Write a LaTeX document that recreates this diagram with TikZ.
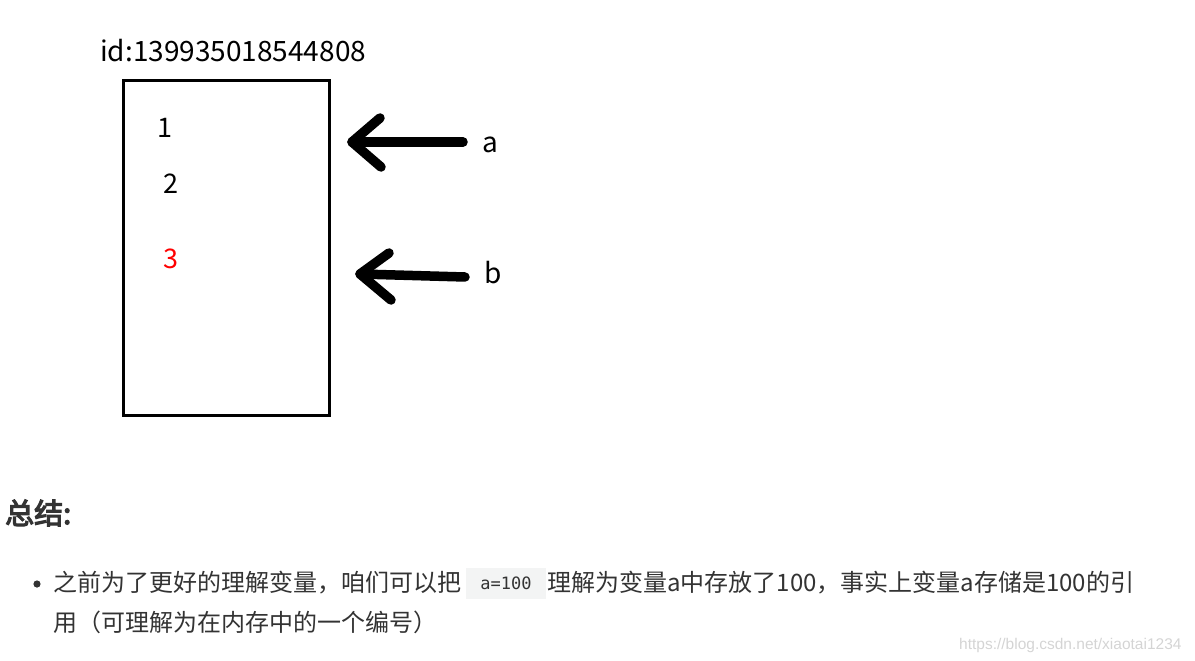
\documentclass[tikz,border=0pt]{standalone}
\usepackage{fontspec}
\setmainfont{Liberation Sans}
\newfontfamily\cjk{Noto Sans CJK SC}
\newfontfamily\cjkbold{Noto Sans CJK SC}[FakeBold=4]
\newfontfamily\codefont{DejaVu Sans Mono}
\newfontfamily\wmfont{Liberation Sans}
\definecolor{txt}{HTML}{333333}
\definecolor{codebg}{HTML}{F3F4F4}
\definecolor{wm}{HTML}{D4D4D4}
\definecolor{red3}{HTML}{FF0000}
\begin{document}
\begin{tikzpicture}[x=1pt,y=-1pt,
  lbl/.style={inner sep=0pt,anchor=base west,font=\cjk\fontsize{27}{30}\selectfont},
  body/.style={inner sep=0pt,anchor=base west,text=txt,font=\cjk\fontsize{24}{28}\selectfont},
  pointer/.style={line width=9.5pt,line cap=round,line join=round}]
\useasboundingbox (0,0) rectangle (1195,661);
% memory box
\node[lbl,font=\cjk\fontsize{28}{30}\selectfont] (id) at (100,62) {id:139935018544808};
\draw[line width=3pt] (123,81) rectangle (329,415);
\node[lbl] (n1) at (157,137) {1};
\node[lbl] (n2) at (163,193) {2};
\node[lbl,text=red3] (n3) at (163,268) {3};
% pointer a
\node[lbl,font=\cjk\fontsize{28}{30}\selectfont] (la) at (482,152) {a};
\coordinate (atail) at (463,142);
\coordinate (atip) at (352,142);
\draw[pointer] (atail) -- (atip);
\draw[pointer] (380,118) -- (atip) -- (381,167);
% pointer b
\node[lbl,font=\cjk\fontsize{28}{30}\selectfont] (lb) at (484,283) {b};
\coordinate (btail) at (465,277);
\coordinate (btip) at (360,274);
\draw[pointer] (btail) -- (btip);
\draw[pointer] (389,253) -- (btip) -- (391,300);
% summary
\node[inner sep=0pt,anchor=base west,text=txt,font=\cjkbold\fontsize{29}{32}\selectfont] (title) at (5,524) {总结:};
\fill[txt] (37,584) circle (3.6);
\node[body] (l1a) at (53,591) {之前为了更好的理解变量，咱们可以把};
\node[fill=codebg,inner sep=0pt,minimum width=80pt,minimum height=31pt,font=\codefont\fontsize{17}{18}\selectfont,text=txt] (code) at (506,583) {a=100};
\node[body] (l1b) at (547,591) {理解为变量a中存放了100，事实上变量a存储是100的引};
\node[body] (l2) at (53,631) {用（可理解为在内存中的一个编号）};
\node[inner sep=0pt,anchor=base west,text=wm,font=\wmfont\fontsize{15.5}{18}\selectfont] (wmk) at (959,649) {https://blog.csdn.net/xiaotai1234};
\end{tikzpicture}
\end{document}
